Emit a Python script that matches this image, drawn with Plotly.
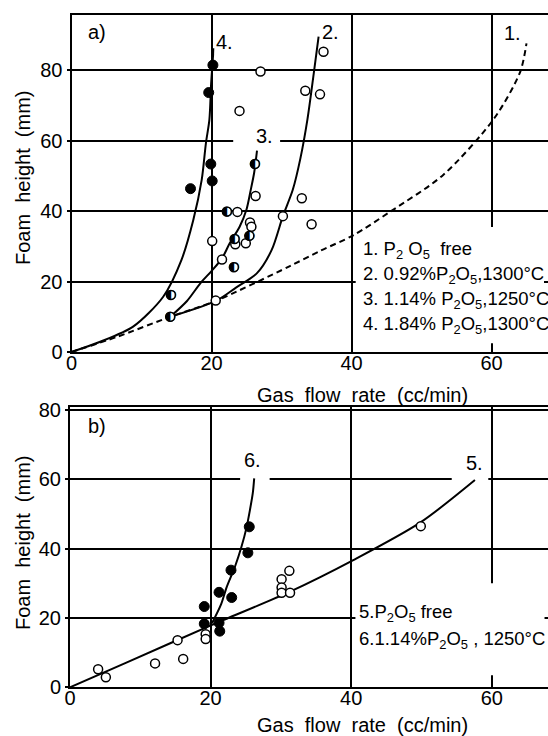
import plotly.graph_objects as go

# ---------------- data: panel a) ----------------
curve1_x = [0, 6.5, 14.1, 20.7, 31.2, 35.5, 40.3, 45.4, 53.1, 60.4, 64.1, 65.0]
curve1_y = [0, 4.3, 10.0, 14.6, 24.4, 28.7, 33.2, 39.7, 50.3, 66.4, 79.6, 87.7]
curve2_x = [14.1, 20.7, 23.5, 26.5, 28.6, 30.2, 31.6, 32.7, 33.7, 34.6, 35.3]
curve2_y = [10.0, 14.6, 18.3, 22.4, 29.0, 38.6, 46.0, 55.0, 66.0, 79.0, 89.6]
curve3_x = [14.1, 16.5, 18.4, 20.0, 21.5, 22.6, 24.0, 25.0, 25.6, 26.1, 26.5]
curve3_y = [10.0, 14.5, 19.5, 23.0, 26.6, 30.9, 35.5, 40.5, 46.0, 51.0, 57.2]
curve4_x = [0, 4.1, 8.8, 13.1, 15.7, 17.4, 18.6, 19.2, 19.7, 19.95, 20.3]
curve4_y = [0, 2.9, 7.2, 15.7, 26.1, 37.5, 48.9, 59.3, 66.0, 76.3, 86.3]

a_filled_x = [20.2, 19.6, 19.9, 20.1, 17.0]
a_filled_y = [81.5, 73.7, 53.4, 48.6, 46.4]
a_half_x = [14.2, 14.1, 22.2, 23.2, 23.3, 25.4, 26.2]
a_half_y = [16.2, 10.0, 39.9, 24.1, 32.1, 33.0, 53.4]
a_open_x = [20.6, 20.1, 21.5, 23.4, 24.9, 23.7, 25.5, 25.7, 26.3, 24.0, 27.0,
            30.2, 32.9, 34.3, 33.4, 35.5, 36.0]
a_open_y = [14.6, 31.5, 26.3, 30.6, 30.9, 39.8, 36.8, 35.6, 44.3, 68.5, 79.7,
            38.6, 43.7, 36.3, 74.2, 73.2, 85.3]

# ---------------- data: panel b) ----------------
curve5_x = [0, 8.1, 20.2, 31.3, 40.3, 49.8, 57.6]
curve5_y = [0, 7.2, 18.0, 27.6, 36.7, 47.5, 59.8]
curve6_x = [20.2, 21.5, 22.3, 23.5, 24.4, 25.1, 25.6, 26.0, 26.2]
curve6_y = [18.5, 24.0, 29.0, 35.0, 40.6, 46.0, 51.2, 56.0, 60.3]

b_open_x = [4.0, 5.1, 12.1, 15.3, 16.1, 19.3, 19.3, 30.1, 30.1, 30.1, 31.2, 31.3, 49.9]
b_open_y = [5.2, 2.9, 6.9, 13.6, 8.2, 15.3, 13.9, 31.2, 28.8, 27.3, 33.6, 27.3, 46.5]
b_filled_x = [19.1, 19.1, 21.2, 21.2, 21.3, 22.9, 23.0, 25.3, 25.5]
b_filled_y = [23.3, 18.3, 27.4, 18.6, 16.2, 33.8, 25.9, 38.8, 46.3]

x_ticks = [0, 20, 40, 60]
ya_ticks = [0, 20, 40, 60, 80]
yb_ticks = [0, 20, 40, 60, 80]

legend_a = ["1. P<sub>2</sub> O<sub>5</sub>  free",
            "2. 0.92%P<sub>2</sub>O<sub>5</sub>,1300°C",
            "3. 1.14% P<sub>2</sub>O<sub>5</sub>,1250°C",
            "4. 1.84% P<sub>2</sub>O<sub>5</sub>,1300°C"]
legend_b = ["5.P<sub>2</sub>O<sub>5</sub> free",
            "6.1.14%P<sub>2</sub>O<sub>5</sub> , 1250°C"]

FONT = "Liberation Sans, Arial, sans-serif"
W, H = 548, 736

fig = go.Figure()

line = dict(color="black", width=2, shape="spline", smoothing=0.8)
dline = dict(color="black", width=2, dash="6px,4px", shape="spline", smoothing=0.8)

# panel a curves
fig.add_trace(go.Scatter(x=curve1_x, y=curve1_y, mode="lines", line=dline, xaxis="x", yaxis="y"))
for cx, cy in [(curve2_x, curve2_y), (curve3_x, curve3_y), (curve4_x, curve4_y)]:
    fig.add_trace(go.Scatter(x=cx, y=cy, mode="lines", line=line, xaxis="x", yaxis="y"))
# panel a points
fig.add_trace(go.Scatter(x=a_open_x, y=a_open_y, mode="markers", xaxis="x", yaxis="y",
                         marker=dict(symbol="circle", size=9, color="white",
                                     line=dict(color="black", width=1.5))))
fig.add_trace(go.Scatter(x=a_filled_x, y=a_filled_y, mode="markers", xaxis="x", yaxis="y",
                         marker=dict(symbol="circle", size=10, color="black",
                                     line=dict(color="black", width=1))))
fig.add_trace(go.Scatter(x=a_half_x, y=a_half_y, mode="markers", xaxis="x", yaxis="y",
                         marker=dict(symbol="circle", size=9, color="white",
                                     line=dict(color="black", width=1.5))))
fig.add_trace(go.Scatter(x=a_half_x, y=a_half_y, mode="text", xaxis="x", yaxis="y",
                         text=["◐"] * len(a_half_x), textposition="middle center",
                         textfont=dict(family="DejaVu Sans", size=13, color="black")))

# panel b curves
fig.add_trace(go.Scatter(x=curve5_x, y=curve5_y, mode="lines", line=line, xaxis="x2", yaxis="y2"))
fig.add_trace(go.Scatter(x=curve6_x, y=curve6_y, mode="lines", line=line, xaxis="x2", yaxis="y2"))
fig.add_trace(go.Scatter(x=b_open_x, y=b_open_y, mode="markers", xaxis="x2", yaxis="y2",
                         marker=dict(symbol="circle", size=9, color="white",
                                     line=dict(color="black", width=1.5))))
fig.add_trace(go.Scatter(x=b_filled_x, y=b_filled_y, mode="markers", xaxis="x2", yaxis="y2",
                         marker=dict(symbol="circle", size=10, color="black",
                                     line=dict(color="black", width=1))))

axis_common = dict(showline=True, linecolor="black", linewidth=2, showgrid=True,
                   gridcolor="black", gridwidth=1.5, zeroline=False, automargin=False,
                   tickfont=dict(family=FONT, size=20, color="black"),
                   ticks="outside", ticklen=3, tickcolor="black", tickwidth=1.5)

xa_dom = [71.5 / W, 1.0]
xb_dom = [70.0 / W, 1.0]
ya_dom = [1 - 352 / H, 1 - 15 / H]
yb_dom = [1 - 687.3 / H, 1 - 407 / H]

fig.update_layout(
    width=W, height=H, margin=dict(l=0, r=0, t=0, b=0),
    paper_bgcolor="white", plot_bgcolor="white", showlegend=False,
    font=dict(family=FONT, color="black", size=20),
    xaxis=dict(axis_common, domain=xa_dom, range=[0, (W - 71.5) / 7.0], anchor="y",
               tickvals=x_ticks, mirror=True, ticks="", ticklabelstandoff=-8),
    yaxis=dict(axis_common, domain=ya_dom, range=[0, (352 - 15) / 3.52], anchor="x",
               tickvals=ya_ticks),
    xaxis2=dict(axis_common, domain=xb_dom, range=[0, (W - 70.0) / 7.03], anchor="y2",
                tickvals=x_ticks, mirror=True, ticks="", ticklabelstandoff=-8),
    yaxis2=dict(axis_common, domain=yb_dom, range=[0, (687.3 - 407) / 3.466], anchor="x2",
                tickvals=yb_ticks),
)

# white patches hiding grid where the original has gaps (between grid and traces)
for xr, yr, x0, x1, y0, y1 in [("x", "y", 40.6, 67.5, 2.5, 35.5),
                               ("x2", "y2", 40.6, 67.5, 3.5, 30.0),
                               ("x", "y", 23.1, 29.8, 58.0, 62.0),
                               ("x2", "y2", 24.2, 28.4, 58.0, 62.0),
                               ("x2", "y2", 54.3, 59.5, 58.0, 62.0)]:
    fig.add_shape(type="rect", xref=xr, yref=yr, x0=x0, x1=x1, y0=y0, y1=y1,
                  fillcolor="white", line=dict(width=0), layer="between")

def A(**kw):
    d = dict(showarrow=False, xanchor="center", yanchor="middle",
             font=dict(family=FONT, size=20, color="black"))
    d.update(kw)
    return d

ann = []
# legend text panel a
for i, t in enumerate(legend_a):
    ann.append(A(text=t, xref="paper", yref="paper", x=361 / W, y=1 - (250 + 25 * i) / H,
                 xanchor="left", align="left", font=dict(family=FONT, size=18.5, color="black")))
for i, t in enumerate(legend_b):
    ann.append(A(text=t, xref="paper", yref="paper", x=357 / W, y=1 - (613 + 27 * i) / H,
                 xanchor="left", align="left", font=dict(family=FONT, size=18.5, color="black")))
# curve labels
for txt, x, y in [("1.", 63.0, 90.5), ("2.", 37.0, 91.0), ("3.", 27.6, 61.5),
                  ("4.", 21.8, 88.0), ("a)", 3.6, 91.0)]:
    ann.append(A(text=txt, xref="x", yref="y", x=x, y=y, bgcolor="white", borderpad=1))
for txt, x, y in [("5.", 57.6, 64.7), ("6.", 26.0, 65.5), ("b)", 3.8, 75.5)]:
    ann.append(A(text=txt, xref="x2", yref="y2", x=x, y=y, bgcolor="white", borderpad=1))
# axis titles
ann.append(A(text="Gas  flow  rate  (cc/min)", xref="paper", yref="paper",
             x=362 / W, y=1 - 395 / H))
ann.append(A(text="Gas  flow  rate  (cc/min)", xref="paper", yref="paper",
             x=362 / W, y=1 - 725 / H))
ann.append(A(text="Foam  height  (mm)", xref="paper", yref="paper",
             x=23 / W, y=1 - 178 / H, textangle=-90))
ann.append(A(text="Foam  height  (mm)", xref="paper", yref="paper",
             x=23 / W, y=1 - 543 / H, textangle=-90))
fig.update_layout(annotations=ann)

fig.write_html("out.html", config={"displayModeBar": False},
               post_script="document.body.style.margin='0px';document.body.style.overflow='hidden';")
